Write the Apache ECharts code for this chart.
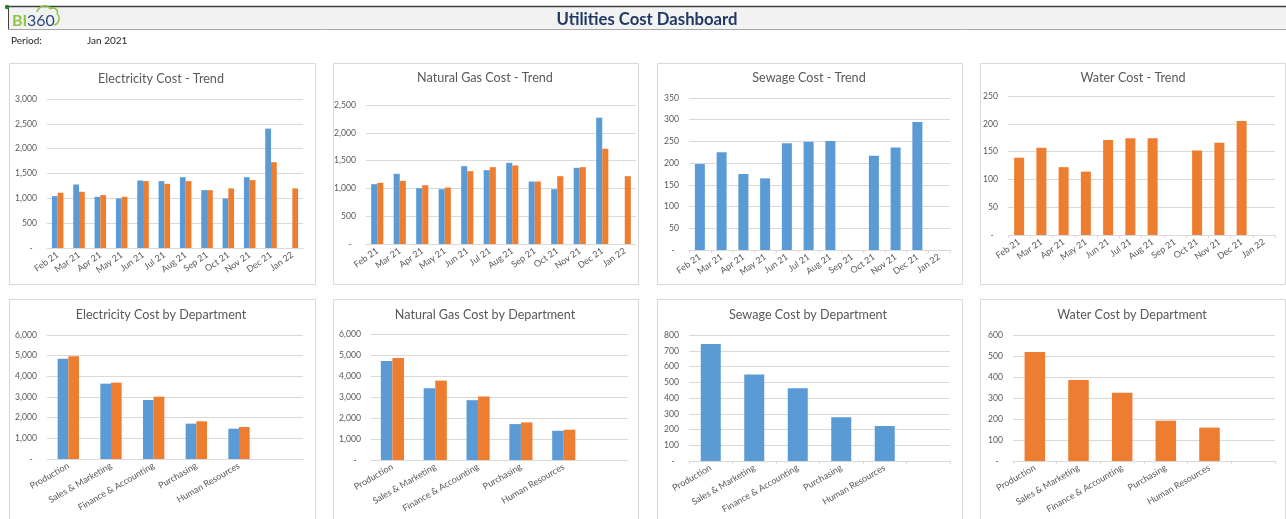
<!DOCTYPE html>
<html>
<head>
<meta charset="utf-8">
<script src="https://cdn.jsdelivr.net/npm/echarts/dist/echarts.min.js"></script>
<style>
html,body{margin:0;padding:0;background:#fff;}
#c{width:1286px;height:519px;}
</style>
</head>
<body>
<div id="c"></div>
<script>
// ---------- DATA ----------
const months = ['Feb 21','Mar 21','Apr 21','May 21','Jun 21','Jul 21','Aug 21','Sep 21','Oct 21','Nov 21','Dec 21','Jan 22'];
const departments = ['Production','Sales & Marketing','Finance & Accounting','Purchasing','Human Resources',''];

const elecTrendBlue   = [1045,1279,1031,998,1359,1346,1426,1165,998,1426,2404,null];
const elecTrendOrange = [1112,1132,1065,1031,1346,1292,1346,1165,1199,1366,1728,1199];
const gasTrendBlue    = [1076,1262,1004,986,1400,1328,1460,1124,986,1370,2272,null];
const gasTrendOrange  = [1100,1136,1058,1016,1310,1382,1412,1124,1220,1382,1713,1220];
const sewageTrend     = [198,225,175,165,246,249,251,null,217,236,295,null];
const waterTrend      = [139,157,122,114,171,174,174,null,152,166,205,null];

const elecDeptBlue    = [4855,3645,2855,1710,1468,null];
const elecDeptOrange  = [4968,3694,3016,1823,1548,null];
const gasDeptBlue     = [4717,3419,2849,1710,1393,null];
const gasDeptOrange   = [4860,3783,3024,1789,1441,null];
const sewageDept      = [743,549,462,277,222,null];
const waterDept       = [519,386,325,192,159,null];

const titles = ['Electricity Cost - Trend','Natural Gas Cost - Trend','Sewage Cost - Trend','Water Cost - Trend',
                'Electricity Cost by Department','Natural Gas Cost by Department','Sewage Cost by Department','Water Cost by Department'];
const yMax = [3000,2500,350,250,6000,6000,800,600];
const yStep = [500,500,50,50,1000,1000,100,100];

// ---------- STYLE / LAYOUT ----------
const FONT = 'Lato, "Open Sans", sans-serif';
const BLUE = '#5b9bd5', ORANGE = '#ed7d31';
const GRID_COLOR = '#d9d9d9', TXT = '#595959';

const layout = [
  {tx:161, ty:79, grid:{left:47, top:99, width:256, height:149}, bw:'27%', rot:35, ticks:false},
  {tx:485, ty:78, grid:{left:366, top:105, width:270, height:139}, bw:'27%', rot:35, ticks:false},
  {tx:809, ty:78, grid:{left:689, top:98, width:261, height:152}, bw:'46%', rot:35, ticks:true},
  {tx:1133, ty:78, grid:{left:1008, top:96, width:267, height:139}, bw:'45%', rot:35, ticks:true},
  {tx:161, ty:315, grid:{left:47, top:335, width:256, height:124}, bw:'25%', rot:30, ticks:false},
  {tx:485, ty:315, grid:{left:371, top:334, width:257, height:126}, bw:'27%', rot:30, ticks:false},
  {tx:808, ty:315, grid:{left:689, top:335, width:261, height:126}, bw:'46%', rot:30, ticks:true},
  {tx:1132, ty:315, grid:{left:1013, top:335, width:262, height:126}, bw:'47%', rot:30, ticks:true}
];
const panels = [
  [9,63,306,221],[333,63,305,221],[657,63,305,221],[980,63,305,221],
  [9,299,306,225],[333,299,305,225],[657,299,305,225],[980,299,305,225]
];

const chartSeries = [
  {cats: months, s: [[elecTrendBlue,BLUE],[elecTrendOrange,ORANGE]]},
  {cats: months, s: [[gasTrendBlue,BLUE],[gasTrendOrange,ORANGE]]},
  {cats: months, s: [[sewageTrend,BLUE]]},
  {cats: months, s: [[waterTrend,ORANGE]]},
  {cats: departments, s: [[elecDeptBlue,BLUE],[elecDeptOrange,ORANGE]]},
  {cats: departments, s: [[gasDeptBlue,BLUE],[gasDeptOrange,ORANGE]]},
  {cats: departments, s: [[sewageDept,BLUE]]},
  {cats: departments, s: [[waterDept,ORANGE]]}
];

const grids = [], xAxes = [], yAxes = [], series = [];
const graphics = [];

// panels
panels.forEach(p => {
  graphics.push({type:'rect', z:-10, shape:{x:p[0]+0.5, y:p[1]+0.5, width:p[2], height:p[3]},
    style:{fill:'#fff', stroke:GRID_COLOR, lineWidth:1}});
});

// header
graphics.push({type:'rect', z:-5, shape:{x:8, y:7, width:1280, height:22}, style:{fill:'#f2f2f2'}});
graphics.push({type:'line', shape:{x1:8, y1:6.5, x2:1286, y2:6.5}, style:{stroke:'#404040', lineWidth:1.5}});
graphics.push({type:'line', shape:{x1:8, y1:29.5, x2:1286, y2:29.5}, style:{stroke:'#a6a6a6', lineWidth:1}});
graphics.push({type:'line', shape:{x1:8.5, y1:6, x2:8.5, y2:29}, style:{stroke:'#404040', lineWidth:1}});
graphics.push({type:'circle', shape:{cx:7, cy:7, r:2.2}, style:{fill:'#2e7d32'}});
graphics.push({type:'text', style:{x:12, y:21, text:'BI', fill:'#8dc63f', font:'bold 16px '+FONT, textVerticalAlign:'middle'}});
graphics.push({type:'text', style:{x:27, y:21, text:'360', fill:'#2b4a7e', font:'16px '+FONT, textVerticalAlign:'middle'}});
// cloud outline around the logo
const cloudStyle = {fill:'none', stroke:'#8dc63f', lineWidth:1.5};
graphics.push({type:'bezierCurve', shape:{x1:37, y1:12, cpx1:39, cpy1:5, cpx2:48, cpy2:4, x2:50, y2:9}, style:cloudStyle});
graphics.push({type:'bezierCurve', shape:{x1:50, y1:9, cpx1:54, cpy1:6, cpx2:59, cpy2:10, x2:57, y2:14}, style:cloudStyle});
graphics.push({type:'bezierCurve', shape:{x1:57, y1:14, cpx1:61, cpy1:17, cpx2:59, cpy2:24, x2:54, y2:25}, style:cloudStyle});
graphics.push({type:'text', style:{x:647, y:19.5, text:'Utilities Cost Dashboard', fill:'#1f3864',
  font:'bold 16.7px '+FONT, textAlign:'center', textVerticalAlign:'middle'}});
graphics.push({type:'text', style:{x:11, y:41, text:'Period:', fill:'#262626', font:'10px '+FONT, textVerticalAlign:'middle'}});
graphics.push({type:'text', style:{x:87, y:41, text:'Jan 2021', fill:'#262626', font:'10px '+FONT, textVerticalAlign:'middle'}});

layout.forEach((L, i) => {
  graphics.push({type:'text', style:{x:L.tx, y:L.ty, text:titles[i], fill:TXT, font:'12.6px '+FONT,
    textAlign:'center', textVerticalAlign:'middle'}});
  grids.push(Object.assign({containLabel:false}, L.grid));
  xAxes.push({
    type:'category', gridIndex:i, data:chartSeries[i].cats, boundaryGap:true,
    axisLine:{show:true, lineStyle:{color:GRID_COLOR, width:1}},
    axisTick:{show:L.ticks, length:3, lineStyle:{color:GRID_COLOR}},
    axisLabel:{interval:0, rotate:L.rot, color:TXT, fontSize:9, fontFamily:FONT, margin:6}
  });
  yAxes.push({
    type:'value', gridIndex:i, min:0, max:yMax[i], interval:yStep[i],
    axisLine:{show:false}, axisTick:{show:false},
    splitLine:{lineStyle:{color:GRID_COLOR, width:1}},
    axisLabel:{color:TXT, fontSize:8.6, fontFamily:FONT, margin:10,
      formatter: v => v === 0 ? '-  ' : v.toLocaleString('en-US')}
  });
  chartSeries[i].s.forEach(([d, col]) => {
    series.push({type:'bar', xAxisIndex:i, yAxisIndex:i, data:d, barWidth:L.bw, barGap:'0%',
      itemStyle:{color:col}, animation:false, silent:true});
  });
});

const chart = echarts.init(document.getElementById('c'));
chart.setOption({
  backgroundColor:'#fff',
  animation:false,
  textStyle:{fontFamily:FONT},
  grid:grids, xAxis:xAxes, yAxis:yAxes, series:series,
  graphic:{elements:graphics}
});
</script>
</body>
</html>
